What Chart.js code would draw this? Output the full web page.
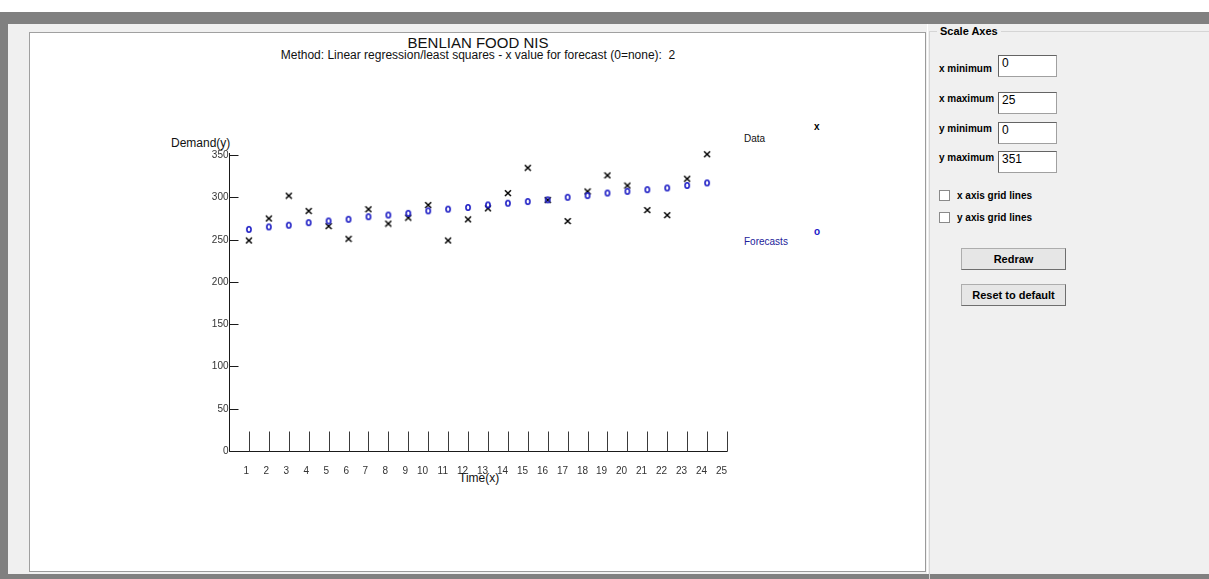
<!DOCTYPE html>
<html>
<head>
<meta charset="utf-8">
<script src="https://cdn.jsdelivr.net/npm/chart.js@4/dist/chart.umd.min.js"></script>
<style>
  html,body{margin:0;padding:0;}
  body{width:1209px;height:579px;overflow:hidden;background:#f0f0f0;position:relative;font-family:Arial,"Liberation Sans",sans-serif;}
  .abs{position:absolute;white-space:nowrap;}
  #topwhite{left:0;top:0;width:1209px;height:12px;background:#fff;}
  #topgray{left:0;top:12px;width:1209px;height:12px;background:#808080;}
  #leftgray{left:0;top:12px;width:8px;height:567px;background:#808080;}
  #botgray{left:0;top:574px;width:1209px;height:5px;background:#808080;}
  #panel{left:29px;top:32px;width:897px;height:540px;box-sizing:border-box;background:#fff;border:1px solid #a0a0a0;border-right-color:#9a9a9a;border-bottom-color:#9a9a9a;}
  #rpanel{left:927px;top:24px;width:282px;height:550px;background:#f0f0f0;border-left:1px solid #fff;}
  #gbox{left:929px;top:31px;width:300px;height:560px;border:1px solid #d5d5d5;box-sizing:border-box;}
  #gtitle{left:937px;top:25px;font:bold 11px Arial,"Liberation Sans";color:#000;background:#f0f0f0;padding:0 3px;line-height:13px;}
  .lbl{font:bold 10px Arial,"Liberation Sans";color:#000;line-height:10px;}
  .inp{width:59px;height:22px;box-sizing:border-box;background:#fff;border:1px solid #a0a0a0;border-top-color:#646464;border-left-color:#646464;font:12px Arial,"Liberation Sans";color:#000;padding:1px 0 0 3px;line-height:13px;}
  .chk{width:11px;height:11px;box-sizing:border-box;background:#fff;border:1px solid #8a8a8a;}
  .btn{width:105px;height:22px;box-sizing:border-box;background:#e6e6e6;border:1px solid #adadad;border-bottom-color:#6e6e6e;border-right-color:#6e6e6e;font:bold 11px Arial,"Liberation Sans";text-align:center;line-height:20px;color:#000;}
  #chartwrap{left:0;top:0;width:1209px;height:579px;}
  .ttl{color:#111;}
</style>
</head>
<body>
<div class="abs" id="topwhite"></div>
<div class="abs" id="topgray"></div>
<div class="abs" id="leftgray"></div>
<div class="abs" id="botgray"></div>
<div class="abs" id="panel"></div>
<div class="abs" id="rpanel"></div>
<div class="abs" id="gbox"></div>
<div class="abs" id="gtitle">Scale Axes</div>

<div class="abs lbl" style="left:939px;top:64px;">x minimum</div>
<div class="abs inp" style="left:998px;top:55px;">0</div>
<div class="abs lbl" style="left:939px;top:94px;">x maximum</div>
<div class="abs inp" style="left:998px;top:92px;">25</div>
<div class="abs lbl" style="left:939px;top:124px;">y minimum</div>
<div class="abs inp" style="left:998px;top:122px;">0</div>
<div class="abs lbl" style="left:939px;top:153px;">y maximum</div>
<div class="abs inp" style="left:998px;top:151px;">351</div>

<div class="abs chk" style="left:939px;top:190px;"></div>
<div class="abs lbl" style="left:957px;top:191px;">x axis grid lines</div>
<div class="abs chk" style="left:939px;top:212px;"></div>
<div class="abs lbl" style="left:957px;top:213px;">y axis grid lines</div>

<div class="abs btn" style="left:961px;top:248px;">Redraw</div>
<div class="abs btn" style="left:961px;top:284px;">Reset to default</div>

<div class="abs ttl" style="left:0;width:956px;text-align:center;top:35px;font-size:15px;line-height:15px;">BENLIAN FOOD NIS</div>
<div class="abs ttl" style="left:0;width:956px;text-align:center;top:49px;font-size:12px;line-height:12px;">Method: Linear regression/least squares - x value for forecast (0=none):&nbsp; 2</div>
<div class="abs ttl" style="left:171px;top:137px;font-size:12px;line-height:12px;">Demand(y)</div>
<div class="abs ttl" style="left:459px;top:472px;font-size:12px;line-height:12px;">Time(x)</div>
<div class="abs" style="left:744px;top:134px;font-size:10px;line-height:10px;color:#111;">Data</div>
<div class="abs" style="left:744px;top:237px;font-size:10px;line-height:10px;color:#22229a;">Forecasts</div>
<div class="abs" style="left:814px;top:122px;font:bold 10px Arial,'Liberation Sans';line-height:10px;color:#000;">x</div>
<div class="abs" style="left:814px;top:227px;font:bold 10px Arial,'Liberation Sans';line-height:10px;color:#2020c8;">o</div>

<div class="abs" id="chartwrap"><canvas id="c" width="1209" height="579"></canvas></div>

<script>
// ---- data ----
const periods   = [1,2,3,4,5,6,7,8,9,10,11,12,13,14,15,16,17,18,19,20,21,22,23,24];
const demand    = [249,275,302,284,266,251,286,269,276,291,249,274,287,305,335,297,272,307,326,314,285,279,322,351];
const forecasts = [262,265,267,270,272,274,277,279,281,284,286,288,291,293,295,297,300,302,305,307,309,311,314,317];
const xTicks    = [1,2,3,4,5,6,7,8,9,10,11,12,13,14,15,16,17,18,19,20,21,22,23,24,25];
const yTicks    = [0,50,100,150,200,250,300,350];
const xMin = 0, xMax = 25, yMin = 0, yMax = 351;

// ---- marker glyphs ----
function makeX(){
  const c=document.createElement('canvas'); c.width=8; c.height=8;
  const g=c.getContext('2d'); g.strokeStyle='#000'; g.lineWidth=1.5;
  g.beginPath(); g.moveTo(1,1.2); g.lineTo(7,7); g.moveTo(7,1.2); g.lineTo(1,7); g.stroke();
  return c;
}
function makeO(){
  const c=document.createElement('canvas'); c.width=8; c.height=9;
  const g=c.getContext('2d'); g.strokeStyle='#1c1cc4'; g.lineWidth=1.6;
  g.beginPath(); g.ellipse(4,4.5,2.1,2.8,0,0,Math.PI*2); g.stroke();
  return c;
}

const axesPlugin = {
  id:'oldAxes',
  beforeDatasetsDraw(chart){
    const ctx=chart.ctx, xs=chart.scales.x, ys=chart.scales.y;
    const x0=Math.round(xs.getPixelForValue(xMin))+0.5;
    const y0=Math.round(ys.getPixelForValue(yMin))+0.5;
    ctx.save();
    ctx.lineWidth=1;
    ctx.strokeStyle='#1a1a1a';
    ctx.beginPath();
    ctx.moveTo(x0, Math.round(chart.chartArea.top)-1);
    ctx.lineTo(x0, y0);
    ctx.lineTo(Math.round(xs.getPixelForValue(xMax))+0.5, y0);
    ctx.stroke();
    // y ticks (inward) and labels
    ctx.font='10px Arial, "Liberation Sans"';
    ctx.fillStyle='#333';
    ctx.textAlign='right'; ctx.textBaseline='middle';
    yTicks.forEach(v=>{
      const y=Math.round(ys.getPixelForValue(v))+0.5;
      ctx.beginPath(); ctx.moveTo(x0,y); ctx.lineTo(x0+9,y); ctx.stroke();
      ctx.fillText(String(v), x0-1, y);
    });
    // x ticks (upward) and labels
    ctx.strokeStyle='#3a3a3a';
    ctx.textAlign='right'; ctx.textBaseline='middle';
    xTicks.forEach(v=>{
      const x=Math.round(xs.getPixelForValue(v))+0.5;
      ctx.beginPath(); ctx.moveTo(x,y0); ctx.lineTo(x,y0-20); ctx.stroke();
      ctx.fillText(String(v), x-0.5, y0+20);
    });
    ctx.restore();
  }
};

const xMark=makeX(), oMark=makeO();
new Chart(document.getElementById('c'),{
  type:'scatter',
  data:{
    datasets:[
      {label:'Forecasts', data:periods.map((p,i)=>({x:p,y:forecasts[i]})), pointStyle:oMark, pointRadius:3, pointHoverRadius:3, clip:false},
      {label:'Data', data:periods.map((p,i)=>({x:p,y:demand[i]})), pointStyle:xMark, pointRadius:3, pointHoverRadius:3, clip:false}
    ]
  },
  options:{
    responsive:false,
    animation:false,
    devicePixelRatio:1,
    events:[],
    layout:{padding:{left:229, right:482, top:154.16, bottom:128}},
    plugins:{legend:{display:false}, title:{display:false}, tooltip:{enabled:false}},
    scales:{
      x:{type:'linear', min:xMin, max:xMax, display:false},
      y:{type:'linear', min:yMin, max:yMax, display:false}
    }
  },
  plugins:[axesPlugin]
});
</script>
</body>
</html>
